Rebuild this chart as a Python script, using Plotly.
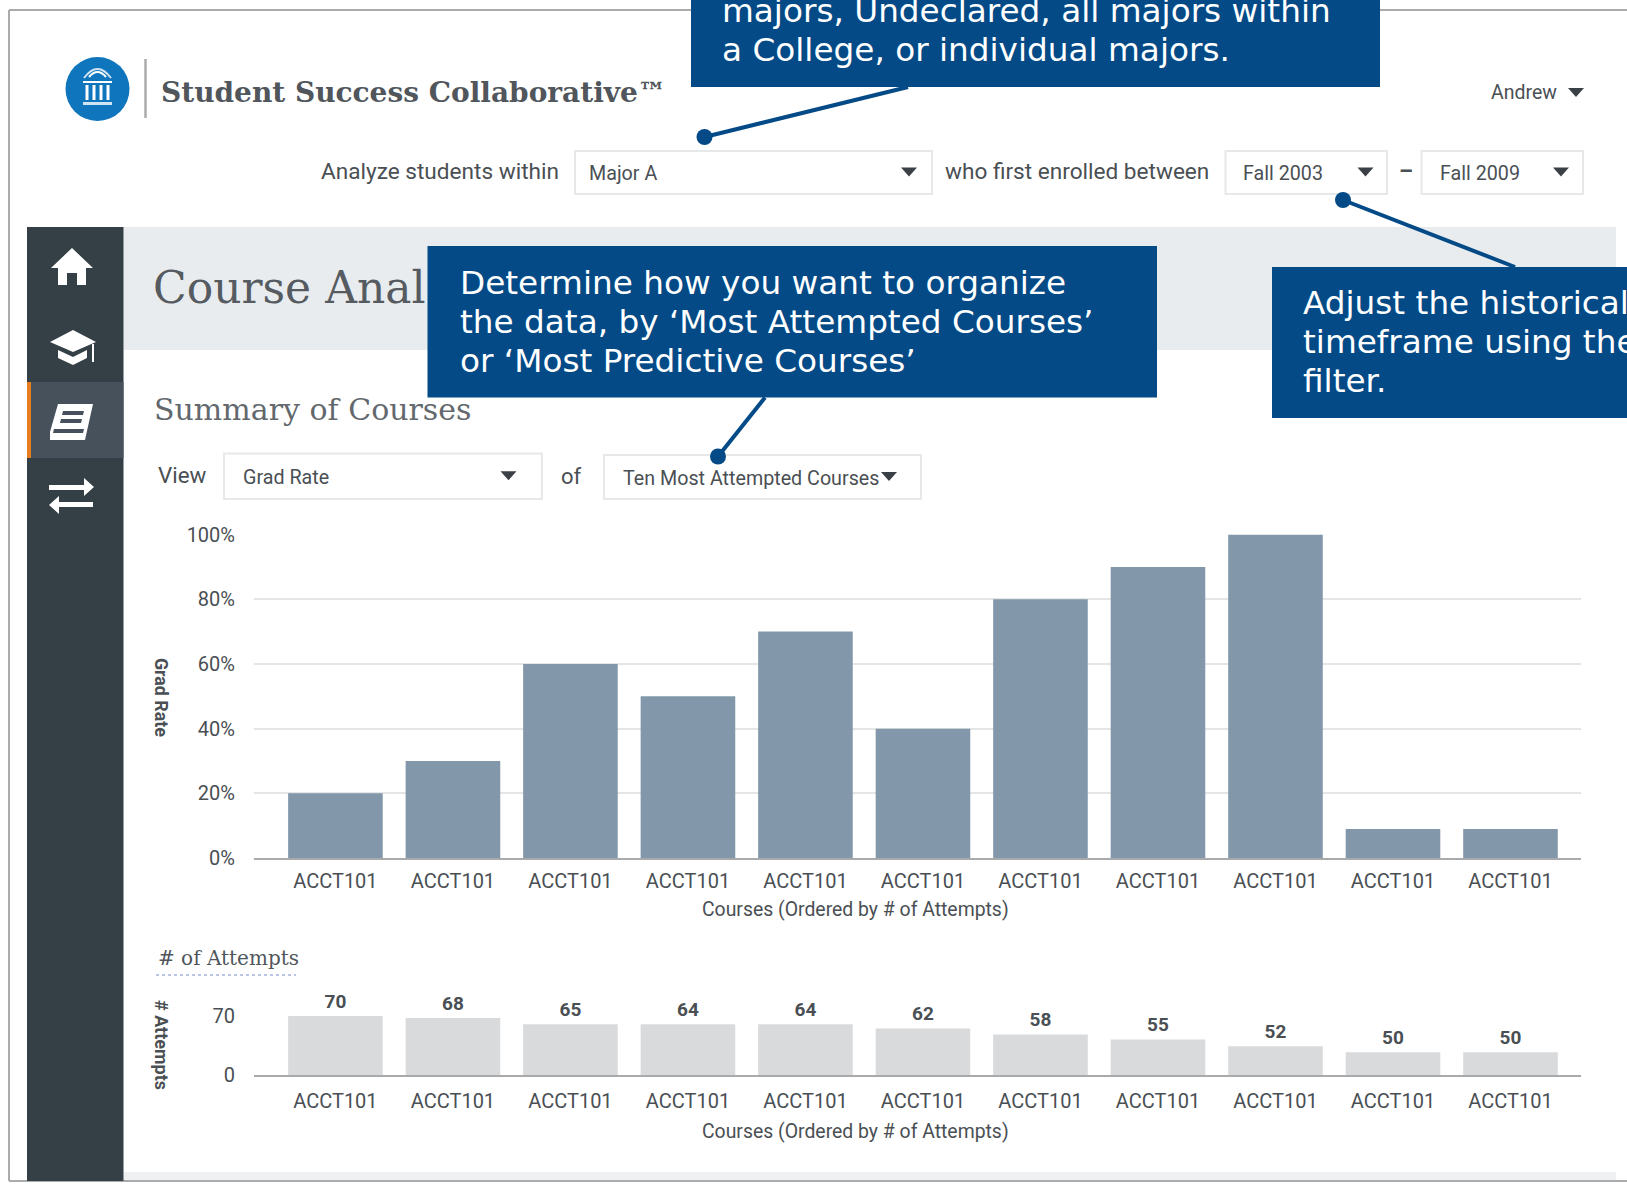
"""Student Success Collaborative course analysis page with callouts."""

import plotly.graph_objects as go

WIDTH = 1627
HEIGHT = 1185

course_positions = [0, 1, 2, 3, 4, 5, 6, 7, 8, 9, 10]
course_names = ["ACCT101"] * 11
grad_rates = [20, 30, 60, 50, 70, 40, 80, 90, 100, 9, 9]
grad_ticks = [0, 20, 40, 60, 80, 100]
grad_tick_labels = ["0%", "20%", "40%", "60%", "80%", "100%"]
# bar heights as drawn against the 0-70 axis, they differ from the printed counts
attempt_heights = [70, 67.5, 60, 60, 60, 55, 48, 42, 34, 27, 27]
attempt_labels = [70, 68, 65, 64, 64, 62, 58, 55, 52, 50, 50]
attempt_ticks = [0, 70]

NAVY = "#034a87"
SANS = "Roboto, sans-serif"
SERIF = "DejaVu Serif, serif"
CALLOUT = "DejaVu Sans, sans-serif"
GREY_TEXT = "#4a4f54"


def px(x):
    return x / WIDTH


def py(y):
    return 1 - y / HEIGHT


shapes = []
annotations = []


def rect(x0, y0, x1, y1, fill, line=None, width=1):
    shapes.append(dict(
        type="rect", xref="paper", yref="paper",
        x0=px(x0), x1=px(x1), y0=py(y0), y1=py(y1),
        fillcolor=fill, line=dict(color=line or fill, width=width if line else 0),
    ))


def circle(cx, cy, r, fill):
    shapes.append(dict(
        type="circle", xref="paper", yref="paper",
        x0=px(cx - r), x1=px(cx + r), y0=py(cy + r), y1=py(cy - r),
        fillcolor=fill, line=dict(width=0),
    ))


def poly(points, fill):
    path = "M " + " L ".join(f"{px(x):.5f} {py(y):.5f}" for x, y in points) + " Z"
    shapes.append(dict(
        type="path", xref="paper", yref="paper", path=path,
        fillcolor=fill, line=dict(width=0),
    ))


def line(x0, y0, x1, y1, color, width=1, dash=None):
    shapes.append(dict(
        type="line", xref="paper", yref="paper",
        x0=px(x0), x1=px(x1), y0=py(y0), y1=py(y1),
        line=dict(color=color, width=width, dash=dash),
    ))


def curve(x0, y0, cx, cy, x1, y1, color, width=2):
    path = f"M {px(x0):.5f} {py(y0):.5f} Q {px(cx):.5f} {py(cy):.5f} {px(x1):.5f} {py(y1):.5f}"
    shapes.append(dict(
        type="path", xref="paper", yref="paper", path=path,
        line=dict(color=color, width=width),
    ))


def text(x, y, s, size=18, color=GREY_TEXT, family=SANS, anchor="left", angle=0, weight=None):
    font = dict(size=size, color=color, family=family)
    if weight:
        font["weight"] = weight
    if anchor == "left":
        x -= 2
    annotations.append(dict(
        xref="paper", yref="paper", x=px(x), y=py(y), text=s, showarrow=False,
        xanchor=anchor, yanchor="middle", textangle=angle, font=font,
    ))


def caret(cx, cy, color="#3a4046"):
    poly([(cx - 8, cy - 4), (cx + 8, cy - 4), (cx, cy + 5)], color)


def select(x0, y0, x1, y1, label, caret_x, text_x):
    rect(x0, y0, x1, y1, "#ffffff", line="#e7e8ea", width=2)
    text(text_x, (y0 + y1) / 2 + 1, label, size=19.7)
    caret(caret_x, (y0 + y1) / 2 - 1)


# page frame
line(9, 10, WIDTH, 10, "#a9abad", 2)
line(9, 10, 9, 1181, "#a9abad", 2)
line(9, 1181, WIDTH, 1181, "#a9abad", 2)
rect(123.5, 1172, 1616, 1180, "#eef0f2")

# header
circle(97.5, 89, 32, "#0f75bc")
for col_x in (87, 94, 101, 108):
    rect(col_x - 1.5, 85, col_x + 1.5, 100, "#ffffff")
rect(83, 102, 112, 105, "#cfe3f2")
rect(83, 81, 112, 83, "#ffffff")
curve(84, 78, 97.5, 60, 111, 78, "#cfe3f2", 2)
curve(89, 77, 97.5, 67, 106, 77, "#ffffff", 2)
line(145.5, 59, 145.5, 118, "#a9abad", 2.5)
text(161, 92, "Student Success Collaborative™", size=28, family=SERIF, color="#50565b", weight=700)
text(1491, 92, "Andrew", size=19.5)
caret(1576, 92)

# filter row
text(321, 172, "Analyze students within", size=22.6)
select(575, 151, 932, 194, "Major A", 909, 589)
text(945, 172, "who first enrolled between", size=22.6)
select(1225.5, 151, 1387, 194, "Fall 2003", 1365.5, 1243)
text(1406, 172, "–", size=22, anchor="center", weight=700)
select(1421.5, 151, 1583, 194, "Fall 2009", 1561, 1440)

# page title band and sidebar
rect(123.5, 227, 1616, 350, "#e9ecef")
text(152.5, 288, "Course Anal", size=44, family=SERIF, color="#555b60")
rect(27, 227, 123.5, 1181, "#343f46")
rect(27, 382, 123.5, 458, "#47515c")
rect(27, 382, 31, 458, "#e87d1e")

# sidebar icons
poly([(72, 248), (93, 268), (86, 268), (86, 285), (77, 285), (77, 273), (67, 273), (67, 285),
      (58, 285), (58, 268), (51, 268)], "#ffffff")
poly([(73, 330), (96, 342), (73, 352), (50, 342)], "#ffffff")
poly([(58, 350), (73, 357), (87, 350), (87, 358), (73, 365), (58, 358)], "#ffffff")
line(93, 344, 93, 362, "#ffffff", 2)
poly([(58, 404), (93, 404), (85, 440), (50, 440), (50, 432)], "#ffffff")
poly([(63, 411), (84, 411), (83, 415), (62, 415)], "#47515c")
poly([(61, 419), (82, 419), (81, 423), (60, 423)], "#47515c")
poly([(54, 429), (84, 429), (83, 433), (53, 433)], "#47515c")
poly([(49, 485), (84, 485), (84, 478), (94, 487), (84, 496), (84, 490), (49, 490)], "#ffffff")
poly([(93, 502), (59, 502), (59, 496), (49, 505), (59, 514), (59, 507), (93, 507)], "#ffffff")

# summary section
text(153.5, 409, "Summary of Courses", size=30, family=SERIF, color="#62686d")
text(158, 475, "View", size=22.4)
select(224, 453.5, 542, 499, "Grad Rate", 508.5, 243)
text(561, 476, "of", size=22)
select(604, 455, 921, 499, "Ten Most Attempted Courses", 889, 622.5)

# labels around the charts
text(162, 697, "Grad Rate", size=17.8, anchor="center", angle=90, weight=700)
text(855, 910, "Courses (Ordered by # of Attempts)", size=19.4, anchor="center")
text(158, 958, "# of Attempts", size=20, family=SERIF, color="#50565b")
line(156, 975, 296, 975, "#b9c5e2", 2, dash="dot")
text(162, 1045, "# Attempts", size=18, anchor="center", angle=90, weight=700)
text(855, 1131, "Courses (Ordered by # of Attempts)", size=19.4, anchor="center")

# callouts: leader lines first, boxes and dots on top
line(704.5, 137, 908, 87, NAVY, 4)
line(718, 456.5, 765, 397.5, NAVY, 4)
line(1343, 200, 1515, 267, NAVY, 4)
circle(704.5, 137, 8, NAVY)
circle(718, 456.5, 8, NAVY)
circle(1343, 200, 8, NAVY)

CALLOUT_SIZE = 32.7
rect(691, 0, 1380, 87, NAVY)
text(722, 11, "majors, Undeclared, all majors within", size=CALLOUT_SIZE, color="#ffffff", family=CALLOUT)
text(722, 50, "a College, or individual majors.", size=CALLOUT_SIZE, color="#ffffff", family=CALLOUT)

rect(427.5, 246, 1157, 397.5, NAVY)
text(460, 283, "Determine how you want to organize", size=CALLOUT_SIZE, color="#ffffff", family=CALLOUT)
text(460, 322, "the data, by ‘Most Attempted Courses’", size=CALLOUT_SIZE, color="#ffffff", family=CALLOUT)
text(460, 361, "or ‘Most Predictive Courses’", size=CALLOUT_SIZE, color="#ffffff", family=CALLOUT)

rect(1272, 267, WIDTH, 418, NAVY)
text(1303, 303, "Adjust the historical", size=CALLOUT_SIZE, color="#ffffff", family=CALLOUT)
text(1303, 342, "timeframe using the", size=CALLOUT_SIZE, color="#ffffff", family=CALLOUT)
text(1303, 381, "filter.", size=CALLOUT_SIZE, color="#ffffff", family=CALLOUT)

fig = go.Figure()
fig.add_trace(go.Bar(
    x=course_positions, y=grad_rates, width=0.805, marker=dict(color="#8297a9", line=dict(width=0)),
    xaxis="x", yaxis="y", hoverinfo="skip",
))
fig.add_trace(go.Bar(
    x=course_positions, y=attempt_heights, width=0.805, marker=dict(color="#d9dadc", line=dict(width=0)),
    text=attempt_labels, textposition="outside", cliponaxis=False, constraintext="none",
    textfont=dict(size=19, color=GREY_TEXT, family=SANS, weight=700),
    xaxis="x2", yaxis="y2", hoverinfo="skip",
))

x_range = [-0.693, 10.6]
x_domain = [px(254), px(1581)]
axis_x = dict(
    domain=x_domain, range=x_range, tickmode="array", tickvals=course_positions,
    ticktext=course_names, showgrid=False, zeroline=False, showline=True,
    linecolor="#a8aaac", linewidth=2, ticks="",
    tickfont=dict(size=20, color=GREY_TEXT, family=SANS),
)

fig.update_layout(
    width=WIDTH,
    height=HEIGHT,
    autosize=False,
    margin=dict(l=0, r=0, t=0, b=0, autoexpand=False),
    paper_bgcolor="#ffffff",
    plot_bgcolor="rgba(0,0,0,0)",
    showlegend=False,
    bargap=0.2,
    shapes=shapes,
    annotations=annotations,
    xaxis=dict(axis_x, anchor="y", ticklabelstandoff=4),
    yaxis=dict(
        domain=[py(858), py(534.6)], range=[0, 100], anchor="x", tickmode="array",
        tickvals=grad_ticks, ticktext=grad_tick_labels, gridcolor="#e4e5e6", gridwidth=1.5,
        zeroline=False, showline=False, ticks="", ticklabelstandoff=18,
        tickfont=dict(size=20, color=GREY_TEXT, family=SANS),
    ),
    xaxis2=dict(axis_x, anchor="y2", ticklabelstandoff=7),
    yaxis2=dict(
        domain=[py(1075), py(1015.8)], range=[0, 70], anchor="x2", tickmode="array",
        tickvals=attempt_ticks, gridcolor="#e4e5e6", gridwidth=1.5,
        zeroline=False, showline=False, ticks="", ticklabelstandoff=18,
        tickfont=dict(size=20, color=GREY_TEXT, family=SANS),
    ),
)

fig.write_html(
    "out.html",
    config=dict(displayModeBar=False),
    post_script="document.body.style.margin='0';document.body.style.overflow='hidden';",
)
